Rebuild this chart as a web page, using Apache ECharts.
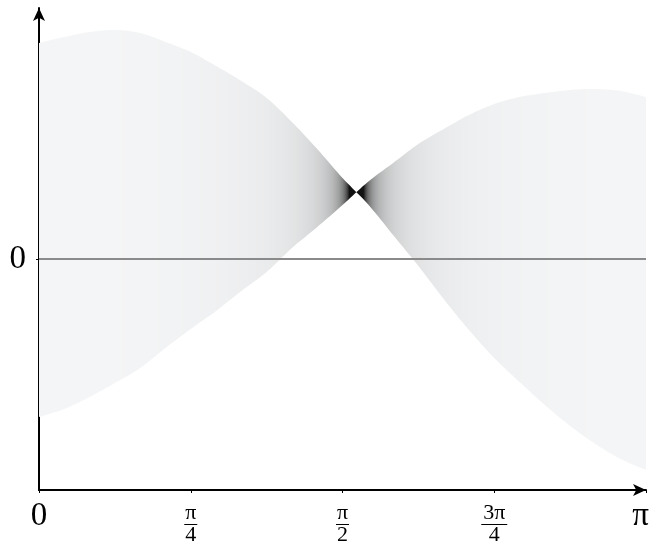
<!DOCTYPE html>
<html><head><meta charset="utf-8">
<script src="https://cdn.jsdelivr.net/npm/echarts@6/dist/echarts.min.js"></script>
<style>html,body{margin:0;padding:0;background:#fff;overflow:hidden}#c{width:652px;height:548px}</style>
</head><body><div id="c"></div>
<script>
// ---- data ----
const xValues = [0, 0.1309, 0.2618, 0.3927, 0.5236, 0.6545, 0.7854, 0.9163, 1.0472, 1.1781, 1.3090, 1.4399, 1.5708,
  1.7017, 1.8326, 1.9635, 2.0944, 2.2253, 2.3562, 2.4871, 2.6180, 2.7489, 2.8798, 3.0107, 3.1416];
const curveA = [2.16, 2.22, 2.27, 2.29, 2.26, 2.17, 2.07, 1.93, 1.78, 1.61, 1.37, 1.10, 0.81,
  0.55, 0.24, -0.07, -0.40, -0.71, -0.99, -1.23, -1.46, -1.67, -1.85, -2.00, -2.11];
const curveB = [-1.58, -1.50, -1.38, -1.24, -1.09, -0.89, -0.70, -0.52, -0.32, -0.13, 0.11, 0.32, 0.54,
  0.77, 0.96, 1.15, 1.30, 1.44, 1.55, 1.62, 1.66, 1.69, 1.70, 1.68, 1.62];
const xTickLabels = ['0', 'π/4', 'π/2', '3π/4', 'π'];
const yTickValues = [0];
const yTickLabels = ['0'];

const PI = Math.PI;
const X_MIN = 0, X_MAX = PI, Y_MIN = -2.31, Y_MAX = 2.51;

function interp(arr, x) {
  for (let i = 0; i < xValues.length - 1; i++) {
    if (x <= xValues[i + 1]) {
      const f = (x - xValues[i]) / (xValues[i + 1] - xValues[i]);
      return arr[i] + f * (arr[i + 1] - arr[i]);
    }
  }
  return arr[arr.length - 1];
}

// shade darkens where the band is narrow
const W0 = 0.14, LIGHT = [253, 254, 255], DARK = [18, 18, 18];
const stops = [];
const N = 700;
for (let i = 0; i <= N; i++) {
  const x = X_MIN + (X_MAX - X_MIN) * i / N;
  const w = Math.abs(interp(curveA, x) - interp(curveB, x));
  const t = Math.min(1, W0 / Math.max(w, 1e-6));
  const c = LIGHT.map((l, k) => Math.round(l * (1 - t) + DARK[k] * t));
  stops.push({ offset: i / N, color: 'rgb(' + c.join(',') + ')' });
}

// smooth rendering of a polyline of pixel points (Catmull-Rom)
function smoothPts(p, sub) {
  const out = [];
  const n = p.length;
  for (let i = 0; i < n - 1; i++) {
    const p0 = p[Math.max(0, i - 1)], p1 = p[i], p2 = p[i + 1], p3 = p[Math.min(n - 1, i + 2)];
    for (let s = 0; s < sub; s++) {
      const t = s / sub, t2 = t * t, t3 = t2 * t;
      const f = k => 0.5 * ((2 * p1[k]) + (-p0[k] + p2[k]) * t +
        (2 * p0[k] - 5 * p1[k] + 4 * p2[k] - p3[k]) * t2 + (-p0[k] + 3 * p1[k] - 3 * p2[k] + p3[k]) * t3);
      out.push([f(0), f(1)]);
    }
  }
  out.push(p[n - 1]);
  return out;
}

function xLabel(value) {
  const idx = Math.round(value / (PI / 4));
  const s = xTickLabels[idx];
  if (s === undefined) return '';
  if (s.indexOf('/') < 0) return idx === xTickLabels.length - 1 ? '{bigR|' + s + '}' : '{big|' + s + '}';
  const [num, den] = s.split('/');
  return '{num|' + num + '}\n{' + (num.length > 1 ? 'bar3' : 'bar') + '| }\n{den|' + den + '}';
}

const FONT = 'Liberation Serif';
const chart = echarts.init(document.getElementById('c'));
chart.setOption({
  animation: false,
  backgroundColor: '#fff',
  grid: { left: 39, right: 6, top: 8, bottom: 58, containLabel: false, outerBoundsMode: 'none' },
  xAxis: {
    type: 'value', min: X_MIN, max: X_MAX, interval: PI / 4,
    splitLine: { show: false },
    axisLine: { show: true, onZero: false, symbol: ['none', 'arrow'], symbolSize: [9, 13],
      lineStyle: { color: '#000', width: 2 } },
    axisTick: { show: true, length: 3, lineStyle: { color: '#000', width: 1 } },
    axisLabel: {
      show: true, margin: 13, color: '#000', fontFamily: FONT, fontSize: 22,
      showMinLabel: true, showMaxLabel: true, hideOverlap: false,
      formatter: xLabel,
      rich: {
        big: { fontSize: 33, fontFamily: FONT, color: '#000', lineHeight: 26 },
        bigR: { fontSize: 33, fontFamily: FONT, color: '#000', lineHeight: 26, padding: [0, 11, 0, 0] },
        num: { fontSize: 22, fontFamily: FONT, color: '#000', lineHeight: 20 },
        bar: { fontSize: 1, lineHeight: 3, height: 1, width: 13, backgroundColor: '#000' },
        bar3: { fontSize: 1, lineHeight: 3, height: 1, width: 26, backgroundColor: '#000' },
        den: { fontSize: 22, fontFamily: FONT, color: '#000', lineHeight: 19 }
      }
    }
  },
  yAxis: {
    type: 'value', min: Y_MIN, max: Y_MAX,
    splitLine: { show: false },
    axisLine: { show: true, onZero: false, symbol: ['none', 'arrow'], symbolSize: [9, 13],
      lineStyle: { color: '#000', width: 2 } },
    axisTick: { show: true, length: 3, customValues: yTickValues, lineStyle: { color: '#000', width: 1 } },
    axisLabel: {
      show: true, margin: 13, color: '#000', fontFamily: FONT, fontSize: 33,
      customValues: yTickValues,
      formatter: v => { const i = yTickValues.indexOf(v); return i >= 0 ? yTickLabels[i] : ''; }
    }
  },
  series: [{
    type: 'custom',
    data: [[0, 0]],
    clip: false,
    silent: true,
    renderItem: function (params, api) {
      const pa = xValues.map((x, i) => api.coord([x, curveA[i]]));
      const pb = xValues.map((x, i) => api.coord([x, curveB[i]]));
      const pts = smoothPts(pa, 10).concat(smoothPts(pb, 10).reverse());
      return {
        type: 'polygon',
        shape: { points: pts },
        style: { fill: new echarts.graphic.LinearGradient(0, 0, 1, 0, stops), stroke: null }
      };
    },
    markLine: {
      silent: true, symbol: 'none', animation: false,
      label: { show: false },
      lineStyle: { color: '#8a8a8a', width: 2, type: 'solid' },
      data: [{ yAxis: 0 }]
    },
    z: 1
  }]
});
</script>
</body></html>
